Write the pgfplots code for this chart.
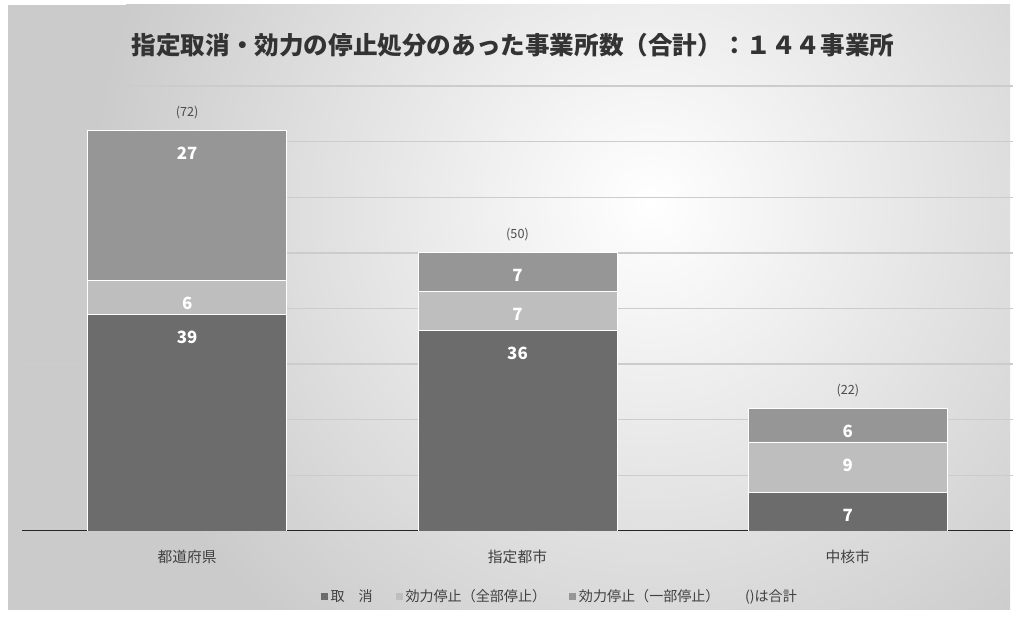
\documentclass[border=0pt]{standalone}
\usepackage{fontspec}
\setmainfont{Noto Sans CJK JP}
\usepackage{pgfplots}
\pgfplotsset{compat=1.18}

\definecolor{torikeshi}{RGB}{108,108,108}
\definecolor{zenbu}{RGB}{190,190,190}
\definecolor{ichibu}{RGB}{150,150,150}
\definecolor{bgout}{RGB}{203,203,203}

\begin{document}
\begin{tikzpicture}
% 背景（1px = 0.25mm）
\fill[white] (-5.5mm,-21.75mm) rectangle (249mm,132.75mm);
\begin{scope}
\clip (-3.5mm,-19.75mm) rectangle (247mm,131.5mm);
\fill[bgout] (-3.5mm,-19.75mm) rectangle (247mm,131.5mm);
\shade[inner color=white, outer color=bgout] (157mm,82mm) circle (140mm);
\end{scope}
% タイトル
\node[font=\bfseries\fontsize{17.5}{20}\selectfont, text=black!80] at (122.75mm,121.5mm)
  {指定取消・効力の停止処分のあった事業所数（合計）：１４４事業所};

\begin{axis}[
  at={(0,0)}, anchor=south west, scale only axis,
  width=247.75mm, height=111.25mm,
  ybar stacked, bar width=49.75mm,
  xmin=-0.5, xmax=2.5, ymin=0, ymax=80,
  xtick={0,1,2}, xticklabels={都道府県,指定都市,中核市},
  ytick={10,20,...,80}, yticklabels={},
  ymajorgrids, grid style={black!20, line width=0.9pt},
  axis line style={draw=none}, major tick length=0pt,
  xticklabel style={anchor=center, yshift=-6.5mm, font=\fontsize{10.5}{12}\selectfont, text=black!75},
  legend columns=4,
  legend style={draw=none, fill=none, at={(0.543,-0.148)}, anchor=center,
    font=\fontsize{10}{12}\selectfont, text=black!75,
    /tikz/every even column/.append style={column sep=5mm}},
  legend image code/.code={\fill[#1, draw=none] (0mm,-0.9mm) rectangle (1.8mm,0.9mm);},
  point meta=explicit symbolic,
  nodes near coords={\pgfplotspointmeta},
  % ラベルは各区分の上端から約23px下に置く
  every node near coord/.append style={anchor=center,
    yshift={(\pgfplotspointmeta*0.6953-5.75)*1mm}, text=white,
    font=\bfseries\fontsize{12}{14}\selectfont},
]
% 取消
\addplot[fill=torikeshi, draw=white, line width=0.6pt]
  coordinates {(0,39) [39] (1,36) [36] (2,7) [7]};
% 効力停止（全部停止）
\addplot[fill=zenbu, draw=white, line width=0.6pt]
  coordinates {(0,6) [6] (1,7) [7] (2,9) [9]};
% 効力停止（一部停止）
\addplot[fill=ichibu, draw=white, line width=0.6pt]
  coordinates {(0,27) [27] (1,7) [7] (2,6) [6]};
\addlegendimage{empty legend}
\legend{取　消, 効力停止（全部停止）, 効力停止（一部停止）, ()は合計}
\draw[black!85, line width=1.5pt] (axis cs:-0.5,0) -- (axis cs:2.5,0);
\end{axis}

% 合計ラベル
\begin{axis}[
  at={(0,0)}, anchor=south west, scale only axis,
  width=247.75mm, height=111.25mm,
  xmin=-0.5, xmax=2.5, ymin=0, ymax=80, hide axis,
]
\addplot[only marks, mark=text, text mark={},
  point meta=explicit symbolic, nodes near coords={\pgfplotspointmeta},
  every node near coord/.append style={anchor=center, yshift=4.5mm, text=black!70,
    font=\fontsize{9}{11}\selectfont}]
  coordinates {(0,72) [(72)] (1,50) [(50)] (2,22) [(22)]};
\end{axis}
\end{tikzpicture}
\end{document}
